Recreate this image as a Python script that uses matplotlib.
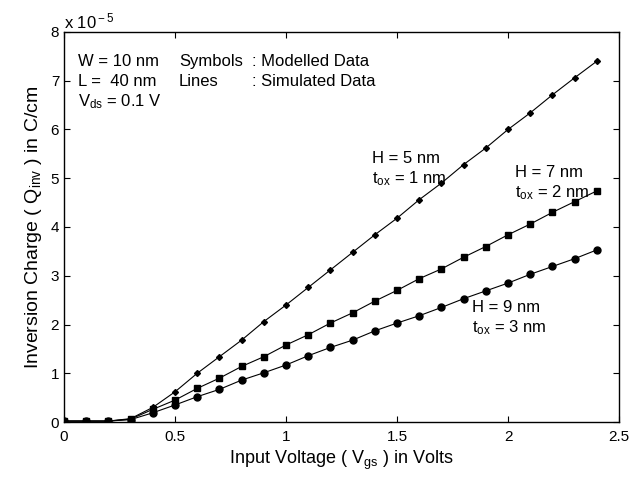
import matplotlib
matplotlib.use("Agg")
from matplotlib import pyplot as plt

plt.rcParams["font.family"] = ["Liberation Sans", "DejaVu Sans"]
plt.rcParams["mathtext.fontset"] = "custom"
plt.rcParams["mathtext.rm"] = "Liberation Sans"
plt.rcParams["mathtext.it"] = "Liberation Sans"

# gate voltage, V
vgs = [0.0, 0.1, 0.2, 0.3, 0.4, 0.5, 0.6, 0.7, 0.8, 0.9, 1.0, 1.1, 1.2,
       1.3, 1.4, 1.5, 1.6, 1.7, 1.8, 1.9, 2.0, 2.1, 2.2, 2.3, 2.4]

# inversion charge, x 1e-5 C/cm
q_h5 = [0.02, 0.02, 0.02, 0.07, 0.30, 0.62, 1.00, 1.34, 1.68, 2.06, 2.40, 2.76, 3.12,
        3.48, 3.84, 4.18, 4.56, 4.90, 5.28, 5.62, 6.00, 6.34, 6.71, 7.06, 7.40]
q_h7 = [0.02, 0.02, 0.02, 0.06, 0.26, 0.45, 0.69, 0.90, 1.14, 1.34, 1.58, 1.79, 2.03,
        2.24, 2.48, 2.70, 2.94, 3.14, 3.38, 3.60, 3.84, 4.06, 4.30, 4.52, 4.74]
q_h9 = [0.02, 0.02, 0.02, 0.05, 0.19, 0.35, 0.52, 0.67, 0.86, 1.01, 1.17, 1.36, 1.53,
        1.68, 1.87, 2.03, 2.18, 2.35, 2.53, 2.69, 2.85, 3.03, 3.19, 3.35, 3.53]

fig = plt.figure(figsize=(6.42, 4.84), dpi=100)
ax = fig.add_axes([0.0997, 0.128, 0.8645, 0.806])

ax.plot(vgs, q_h5, "k-", lw=0.8, marker="D", ms=3)
ax.plot(vgs, q_h7, "k-", lw=0.8, marker="s", ms=4.5)
ax.plot(vgs, q_h9, "k-", lw=0.8, marker="o", ms=5)

ax.set_xlim(0, 2.5)
ax.set_ylim(0, 8)
ax.set_xticks([0, 0.5, 1, 1.5, 2, 2.5])
ax.set_xticklabels(["0", "0.5", "1", "1.5", "2", "2.5"])
ax.set_yticks(range(9))
ax.tick_params(direction="in", top=True, right=True, labelsize=11, length=4, width=0.8)
ax.tick_params(axis="x", pad=6)
for s in ax.spines.values():
    s.set_linewidth(1.0)

ax.set_xlabel(r"Input Voltage ( V$_{\rm gs}$ ) in Volts", fontsize=13, labelpad=3)
ax.set_ylabel(r"Inversion Charge ( Q$_{\rm inv}$ ) in C/cm", fontsize=14, labelpad=5)

fig.text(0.1, 0.955, r"x 10$^{\rm -5}$", fontsize=12, va="center", ha="left")

fs = 12
ax.text(0.063, 7.39, "W = 10 nm", fontsize=fs, va="center")
ax.text(0.063, 6.98, "L =  40 nm", fontsize=fs, va="center")
ax.text(0.063, 6.58, r"V$_{\rm ds}$ = 0.1 V", fontsize=fs, va="center")
ax.text(0.518, 7.39, "Symbols", fontsize=fs, va="center")
ax.text(0.518, 6.98, "Lines", fontsize=fs, va="center")
ax.text(0.847, 7.39, ": Modelled Data", fontsize=fs, va="center")
ax.text(0.847, 6.98, ": Simulated Data", fontsize=fs, va="center")

ax.text(1.387, 5.40, "H = 5 nm", fontsize=fs, va="center")
ax.text(1.387, 4.99, r"t$_{\rm ox}$ = 1 nm", fontsize=fs, va="center")
ax.text(2.03, 5.12, "H = 7 nm", fontsize=fs, va="center")
ax.text(2.03, 4.71, r"t$_{\rm ox}$ = 2 nm", fontsize=fs, va="center")
ax.text(1.836, 2.35, "H = 9 nm", fontsize=fs, va="center")
ax.text(1.836, 1.94, r"t$_{\rm ox}$ = 3 nm", fontsize=fs, va="center")

fig.savefig("out.png", dpi=100)
